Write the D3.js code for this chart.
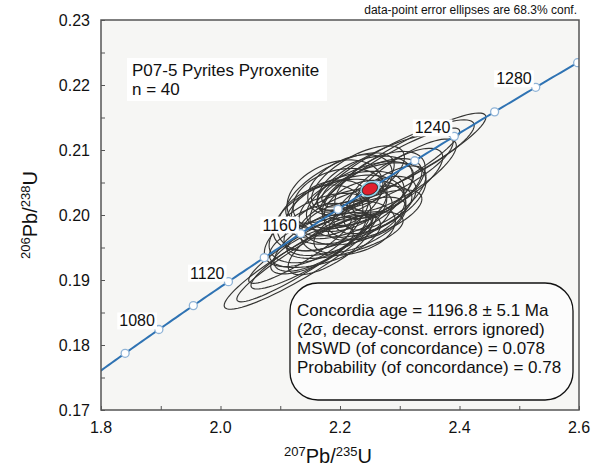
<!DOCTYPE html>
<html>
<head>
<meta charset="utf-8">
<title>Concordia P07-5</title>
<script src="https://cdn.jsdelivr.net/npm/d3@7"></script>
<style>
  body { margin: 0; background: #fff; }
  svg text { font-family: "Liberation Sans", Arial, Helvetica, sans-serif; fill: #111; }
</style>
</head>
<body>
<script>
// spot analyses: 207Pb/235U, 206Pb/238U, 1 sigma errors and error correlation
var ratio207 = [2.1331, 2.1414, 2.1531, 2.3088, 2.2971, 2.2837, 2.2753, 2.1833, 2.2084, 2.2335,
                2.2201, 2.1967, 2.2418, 2.2536, 2.1665, 2.2000, 2.2251, 2.2586, 2.1498, 2.1749,
                2.2084, 2.2335, 2.2669, 2.2167, 2.1916, 2.2469, 2.2753, 2.1665, 2.1833, 2.1833,
                2.2301, 2.2920, 2.1665, 2.2134, 2.1531, 2.2586, 2.2000, 2.2418, 2.3088, 2.1331];
var ratio206 = [0.19277, 0.19338, 0.19431, 0.20846, 0.20815, 0.20692, 0.20662, 0.20000, 0.20154, 0.20308,
                0.20077, 0.19892, 0.20415, 0.20354, 0.19800, 0.20231, 0.20000, 0.20154, 0.19692, 0.19615,
                0.19692, 0.19846, 0.20462, 0.20462, 0.20308, 0.20231, 0.20262, 0.19615, 0.19538, 0.20108,
                0.20569, 0.20508, 0.19954, 0.19800, 0.19462, 0.20000, 0.20415, 0.20077, 0.20615, 0.19462];
var err207 = [0.0838, 0.0753, 0.0674, 0.0894, 0.0842, 0.0770, 0.0752, 0.0627, 0.0652, 0.0592,
              0.0589, 0.0597, 0.0525, 0.0551, 0.0562, 0.0519, 0.0629, 0.0454, 0.0504, 0.0614,
              0.0642, 0.0509, 0.0499, 0.0466, 0.0529, 0.0641, 0.0453, 0.0509, 0.0462, 0.0426,
              0.0513, 0.0528, 0.0474, 0.0523, 0.0456, 0.0518, 0.0599, 0.0452, 0.0567, 0.0567];
var err206 = [0.00480, 0.00445, 0.00376, 0.00477, 0.00428, 0.00427, 0.00390, 0.00363, 0.00343, 0.00339,
              0.00354, 0.00340, 0.00325, 0.00339, 0.00353, 0.00320, 0.00296, 0.00291, 0.00321, 0.00279,
              0.00237, 0.00283, 0.00341, 0.00308, 0.00356, 0.00378, 0.00325, 0.00317, 0.00302, 0.00284,
              0.00327, 0.00342, 0.00335, 0.00277, 0.00243, 0.00255, 0.00357, 0.00301, 0.00366, 0.00339];
var errRho = [0.920, 0.937, 0.902, 0.912, 0.867, 0.911, 0.775, 0.462, 0.492, 0.586,
              0.316, 0.553, 0.391, 0.608, 0.498, 0.237, 0.604, 0.541, 0.553, 0.554,
              0.605, 0.625, 0.520, 0.404, 0.305, 0.508, 0.682, 0.694, 0.716, 0.275,
              0.643, 0.732, 0.296, 0.256, 0.687, 0.641, 0.656, 0.238, 0.811, 0.906];

// concordia age ellipse
var concAge = 1196.8;
var concErr = [0.0084, 0.00061, 0.28];

// age marks on the concordia (Ma), and the ones that get a label
var markAges = [1060, 1080, 1100, 1120, 1140, 1160, 1180, 1200, 1220, 1240, 1260, 1280, 1300];
var labelAges = [1080, 1120, 1160, 1240, 1280];

var xTicks = [1.8, 2.0, 2.2, 2.4, 2.6];
var yTicks = [0.17, 0.18, 0.19, 0.20, 0.21, 0.22, 0.23];

var infoLines = ['Concordia age = 1196.8 \u00b1 5.1 Ma',
                 '(2\u03c3, decay-const. errors ignored)',
                 'MSWD (of concordance) = 0.078',
                 'Probability (of concordance) = 0.78'];

// decay constants (1/Ma)
var L238 = 1.55125e-4, L235 = 9.8485e-4;
var confK = Math.sqrt(2.2957); // 68.3% conf, 2 dof

var width = 597, height = 467;
var plotL = 101, plotR = 579, plotT = 20, plotB = 410;

var svg = d3.select('body').append('svg')
    .attr('width', width)
    .attr('height', height);

var x = d3.scaleLinear().domain([1.8, 2.6]).range([plotL, plotR]);
var y = d3.scaleLinear().domain([0.17, 0.23]).range([plotB, plotT]);

svg.append('rect')
    .attr('x', plotL).attr('y', plotT)
    .attr('width', plotR - plotL).attr('height', plotB - plotT)
    .attr('fill', '#f6f6f4');

svg.append('clipPath').attr('id', 'plotclip')
    .append('rect')
    .attr('x', plotL).attr('y', plotT)
    .attr('width', plotR - plotL).attr('height', plotB - plotT);

// axes with inward ticks
var xAxis = d3.axisBottom(x).tickValues(d3.range(1.8, 2.61, 0.1)).tickSize(-4).tickFormat('');
var yAxis = d3.axisLeft(y).tickValues(d3.range(0.17, 0.2301, 0.005)).tickSize(-4).tickFormat('');
svg.append('g').attr('transform', 'translate(0,' + plotB + ')').call(xAxis)
    .call(function(g) { g.select('.domain').remove(); g.selectAll('line').attr('stroke', '#555'); });
svg.append('g').attr('transform', 'translate(' + plotL + ',0)').call(yAxis)
    .call(function(g) { g.select('.domain').remove(); g.selectAll('line').attr('stroke', '#555'); });

svg.selectAll('.xlab').data(xTicks).enter().append('text')
    .attr('x', function(d) { return x(d); })
    .attr('y', 433)
    .attr('text-anchor', 'middle')
    .attr('font-size', 16)
    .text(function(d) { return d.toFixed(1); });

svg.selectAll('.ylab').data(yTicks).enter().append('text')
    .attr('x', 90)
    .attr('y', function(d) { return y(d) + 6; })
    .attr('text-anchor', 'end')
    .attr('font-size', 16)
    .text(function(d) { return d.toFixed(2); });

// axis titles
var xt = svg.append('text').attr('x', 328).attr('y', 463).attr('text-anchor', 'middle').attr('font-size', 20);
xt.append('tspan').attr('font-size', 13).attr('dy', -7).text('207');
xt.append('tspan').attr('dy', 7).text('Pb/');
xt.append('tspan').attr('font-size', 13).attr('dy', -7).text('235');
xt.append('tspan').attr('dy', 7).text('U');

var yt = svg.append('text').attr('transform', 'translate(37,215) rotate(-90)')
    .attr('text-anchor', 'middle').attr('font-size', 20);
yt.append('tspan').attr('font-size', 13).attr('dy', -7).text('206');
yt.append('tspan').attr('dy', 7).text('Pb/');
yt.append('tspan').attr('font-size', 13).attr('dy', -7).text('238');
yt.append('tspan').attr('dy', 7).text('U');

// error ellipse as a path in data space
function ellipsePoints(cx, cy, sx, sy, rho) {
    var pts = [];
    for (var i = 0; i <= 72; i++) {
        var t = i / 72 * 2 * Math.PI;
        var px = cx + confK * sx * Math.cos(t);
        var py = cy + confK * sy * (rho * Math.cos(t) + Math.sqrt(1 - rho * rho) * Math.sin(t));
        pts.push([px, py]);
    }
    return pts;
}
var line = d3.line().x(function(d) { return x(d[0]); }).y(function(d) { return y(d[1]); });

var plot = svg.append('g').attr('clip-path', 'url(#plotclip)');

plot.selectAll('.ell').data(d3.range(ratio207.length)).enter().append('path')
    .attr('d', function(i) { return line(ellipsePoints(ratio207[i], ratio206[i], err207[i], err206[i], errRho[i])); })
    .attr('fill', 'none')
    .attr('stroke', '#353533')
    .attr('stroke-width', 1.15);

// concordia curve
var curveAges = d3.range(1040, 1305, 2);
var conc = curveAges.map(function(t) { return [Math.exp(L235 * t) - 1, Math.exp(L238 * t) - 1]; });
plot.append('path')
    .attr('d', line(conc))
    .attr('fill', 'none')
    .attr('stroke', '#2f73b3')
    .attr('stroke-width', 2);

plot.selectAll('.mark').data(markAges).enter().append('circle')
    .attr('cx', function(t) { return x(Math.exp(L235 * t) - 1); })
    .attr('cy', function(t) { return y(Math.exp(L238 * t) - 1); })
    .attr('r', 4)
    .attr('fill', '#fff')
    .attr('stroke', '#8fb3d6')
    .attr('stroke-width', 1.3);

// concordia age ellipse
var cx0 = Math.exp(L235 * concAge) - 1, cy0 = Math.exp(L238 * concAge) - 1;
plot.append('path')
    .attr('d', line(ellipsePoints(cx0, cy0, concErr[0], concErr[1], concErr[2])))
    .attr('fill', '#e0202e')
    .attr('stroke', '#8fd3ea')
    .attr('stroke-width', 4);
plot.append('path')
    .attr('d', line(ellipsePoints(cx0, cy0, concErr[0], concErr[1], concErr[2])))
    .attr('fill', '#e0202e')
    .attr('stroke', '#222')
    .attr('stroke-width', 1);

// age labels
labelAges.forEach(function(t) {
    var mx = x(Math.exp(L235 * t) - 1), my = y(Math.exp(L238 * t) - 1);
    var g = svg.append('g');
    var txt = g.append('text')
        .attr('x', mx - 4).attr('y', my - 3)
        .attr('text-anchor', 'end')
        .attr('font-size', 16)
        .text(t);
    var bb = txt.node().getBBox();
    g.insert('rect', 'text')
        .attr('x', bb.x - 2).attr('y', bb.y)
        .attr('width', bb.width + 4).attr('height', bb.height)
        .attr('fill', '#fff');
});

// sample label
var title = svg.append('g');
title.append('rect').attr('x', 127).attr('y', 58).attr('width', 200).attr('height', 43).attr('fill', '#fff');
title.append('text').attr('x', 132).attr('y', 76).attr('font-size', 17).text('P07-5 Pyrites Pyroxenite');
title.append('text').attr('x', 132).attr('y', 95).attr('font-size', 17).text('n = 40');

// frame
svg.append('rect')
    .attr('x', plotL).attr('y', plotT)
    .attr('width', plotR - plotL).attr('height', plotB - plotT)
    .attr('fill', 'none')
    .attr('stroke', '#555')
    .attr('stroke-width', 1.5);

svg.append('text')
    .attr('x', 577).attr('y', 14)
    .attr('text-anchor', 'end')
    .attr('font-size', 12)
    .text('data-point error ellipses are 68.3% conf.');

// result box
svg.append('rect')
    .attr('x', 290).attr('y', 283)
    .attr('width', 283).attr('height', 117)
    .attr('rx', 28).attr('ry', 28)
    .attr('fill', '#fcfcfc')
    .attr('stroke', '#111')
    .attr('stroke-width', 1.3);

svg.selectAll('.info').data(infoLines).enter().append('text')
    .attr('x', 297)
    .attr('y', function(d, i) { return 316 + i * 19; })
    .attr('font-size', 17)
    .text(function(d) { return d; });
</script>
</body>
</html>
